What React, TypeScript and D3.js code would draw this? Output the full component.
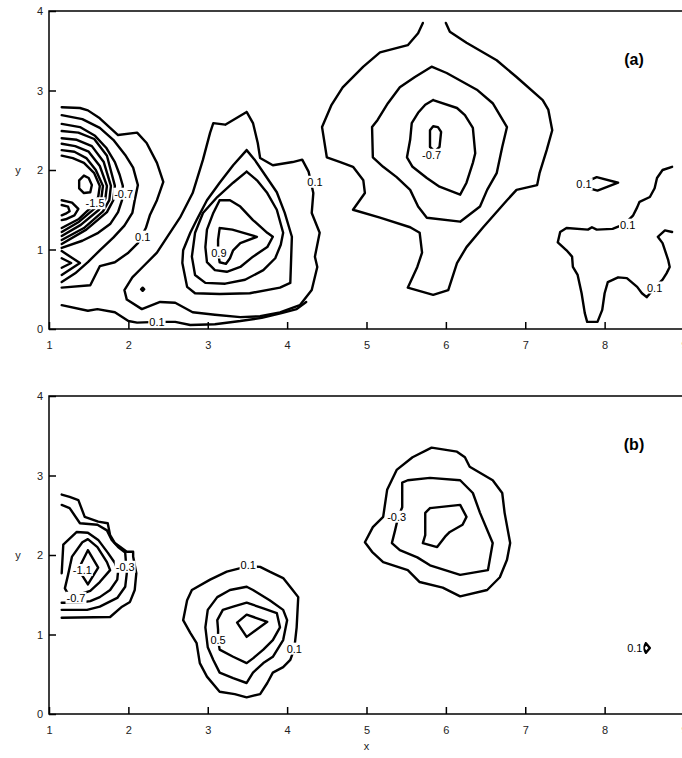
import React, { useEffect, useRef } from 'react';
import * as d3 from 'd3';

type Pt = [number, number];
interface ContourLabel { text: string; x: number; y: number; }

// ---------- panel (a) contour lines, data units (x, y) ----------
const aLeft1: Pt[] = [[1.16,2.79],[1.39,2.78],[1.49,2.75],[1.64,2.65],[1.87,2.44],[2.11,2.47],[2.23,2.34],[2.36,2.09],[2.44,1.85],[2.36,1.62],[2.27,1.43],[2.22,1.27],[2.12,1.08],[2.0,0.96],[1.83,0.84],[1.64,0.79],[1.52,0.55],[1.16,0.52]];
const aLeft2: Pt[] = [[1.16,2.69],[1.42,2.64],[1.64,2.53],[1.81,2.38],[1.96,2.19],[2.06,2.03],[2.12,1.81],[2.08,1.62],[2.05,1.46],[1.95,1.3],[1.81,1.15],[1.64,0.99],[1.49,0.84],[1.33,0.7],[1.16,0.59]];
const aLeft3: Pt[] = [[1.16,2.58],[1.39,2.54],[1.58,2.43],[1.72,2.28],[1.83,2.1],[1.89,1.94],[1.93,1.8],[1.92,1.62],[1.87,1.47],[1.77,1.32],[1.62,1.21],[1.42,1.11],[1.16,1.02]];
const aLeft4: Pt[] = [[1.16,2.49],[1.37,2.47],[1.57,2.39],[1.73,2.18],[1.83,1.8],[1.81,1.62],[1.73,1.47],[1.47,1.25],[1.16,1.07]];
const aLeft5: Pt[] = [[1.16,2.4],[1.35,2.38],[1.54,2.3],[1.69,2.1],[1.78,1.8],[1.76,1.62],[1.68,1.48],[1.44,1.27],[1.16,1.12]];
const aLeft6: Pt[] = [[1.16,2.33],[1.33,2.3],[1.5,2.23],[1.64,2.05],[1.73,1.8],[1.71,1.64],[1.63,1.5],[1.4,1.31],[1.16,1.17]];
const aLeft7: Pt[] = [[1.16,2.25],[1.32,2.23],[1.47,2.15],[1.59,2.0],[1.68,1.8],[1.66,1.65],[1.58,1.52],[1.38,1.35],[1.16,1.22]];
const aLeft8: Pt[] = [[1.16,2.18],[1.3,2.15],[1.44,2.09],[1.57,1.96],[1.64,1.8],[1.62,1.66],[1.54,1.54],[1.37,1.38],[1.16,1.27]];
const aLeftLoop: Pt[] = [[1.38,1.87],[1.44,1.93],[1.5,1.9],[1.54,1.81],[1.52,1.72],[1.44,1.71],[1.38,1.77],[1.38,1.87]];
const aLeftFan1: Pt[] = [[1.16,1.62],[1.29,1.59],[1.37,1.51],[1.32,1.43],[1.21,1.38],[1.16,1.37]];
const aLeftFan2: Pt[] = [[1.16,1.56],[1.24,1.54],[1.26,1.48],[1.21,1.45],[1.16,1.43]];
const aLeftChev1: Pt[] = [[1.16,0.98],[1.39,0.83],[1.16,0.68]];
const aLeftChev2: Pt[] = [[1.16,0.89],[1.28,0.83],[1.16,0.77]];
const aBottom: Pt[] = [[1.16,0.3],[1.49,0.23],[1.61,0.25],[1.83,0.21],[2.0,0.1],[2.11,0.08],[2.36,0.09],[2.59,0.09],[2.78,0.05],[3.09,0.06],[3.41,0.1],[3.68,0.14],[3.93,0.2],[4.12,0.25],[4.24,0.34]];
const aMid1: Pt[] = [[3.49,2.73],[3.57,2.59],[3.63,2.34],[3.66,2.15],[3.82,2.06],[4.07,2.1],[4.19,2.13],[4.27,1.98],[4.33,1.71],[4.31,1.46],[4.41,1.21],[4.35,0.91],[4.38,0.78],[4.31,0.49],[4.16,0.3],[3.91,0.21],[3.66,0.16],[3.41,0.15],[3.09,0.18],[2.81,0.21],[2.59,0.33],[2.4,0.34],[2.17,0.25],[1.98,0.37],[1.95,0.49],[2.05,0.65],[2.18,0.78],[2.36,0.96],[2.49,1.16],[2.65,1.4],[2.81,1.71],[2.94,2.13],[3.03,2.47],[3.07,2.59],[3.22,2.57],[3.49,2.73]];
const aMid2: Pt[] = [[3.49,2.25],[3.59,2.13],[3.72,1.94],[3.87,1.72],[3.97,1.46],[4.06,1.16],[4.05,0.87],[4.04,0.58],[3.91,0.52],[3.53,0.45],[3.15,0.44],[2.84,0.45],[2.74,0.53],[2.68,0.83],[2.69,0.99],[2.78,1.21],[2.86,1.37],[2.99,1.62],[3.15,1.84],[3.32,2.06],[3.49,2.25]];
const aMid3: Pt[] = [[3.49,1.98],[3.62,1.87],[3.75,1.71],[3.87,1.5],[3.95,1.21],[3.92,1.06],[3.85,0.89],[3.7,0.74],[3.47,0.62],[3.22,0.57],[2.97,0.58],[2.84,0.68],[2.8,0.91],[2.84,1.21],[2.94,1.46],[3.12,1.66],[3.32,1.84],[3.49,1.98]];
const aMid4: Pt[] = [[3.15,1.62],[3.28,1.62],[3.41,1.54],[3.57,1.37],[3.75,1.21],[3.82,1.16],[3.75,1.03],[3.57,0.91],[3.41,0.78],[3.24,0.72],[3.09,0.74],[2.99,0.84],[2.97,1.03],[2.99,1.25],[3.07,1.46],[3.15,1.62]];
const aMid5: Pt[] = [[3.15,1.27],[3.31,1.25],[3.62,1.16],[3.41,1.08],[3.32,0.99],[3.28,0.89],[3.23,0.82],[3.15,0.84],[3.13,0.96],[3.13,1.12],[3.15,1.27]];
const aDot: Pt[] = [[2.16,0.5],[2.18,0.52],[2.2,0.5],[2.18,0.48],[2.16,0.5]];
const aUp1: Pt[] = [[5.71,3.85],[5.65,3.72],[5.52,3.57],[5.17,3.48],[4.96,3.3],[4.7,3.04],[4.56,2.82],[4.44,2.54],[4.5,2.16],[4.67,2.1],[4.83,2.04],[4.96,1.87],[4.98,1.71],[4.83,1.5],[5.17,1.4],[5.55,1.28],[5.67,1.21],[5.7,0.96],[5.64,0.78],[5.52,0.52],[5.84,0.43],[6.03,0.49],[6.14,0.83],[6.26,1.03],[6.47,1.28],[6.77,1.62],[6.89,1.75],[7.15,1.81],[7.18,1.96],[7.27,2.25],[7.34,2.5],[7.29,2.76],[7.22,2.88],[6.89,3.17],[6.64,3.38],[6.26,3.6],[6.05,3.74],[6.0,3.85]];
const aUp2: Pt[] = [[5.82,3.3],[6.01,3.22],[6.39,3.01],[6.59,2.84],[6.77,2.54],[6.71,2.29],[6.64,1.96],[6.52,1.75],[6.43,1.54],[6.18,1.35],[5.76,1.4],[5.65,1.54],[5.55,1.75],[5.38,1.91],[5.21,2.04],[5.08,2.16],[5.07,2.54],[5.14,2.63],[5.27,2.84],[5.42,3.04],[5.61,3.17],[5.82,3.3]];
const aUp3: Pt[] = [[5.84,2.88],[6.14,2.78],[6.24,2.69],[6.34,2.53],[6.37,2.21],[6.34,2.09],[6.26,1.84],[6.18,1.69],[5.92,1.79],[5.76,1.9],[5.58,2.04],[5.51,2.16],[5.55,2.38],[5.57,2.59],[5.65,2.72],[5.74,2.82],[5.84,2.88]];
const aUp4: Pt[] = [[5.8,2.29],[5.8,2.5],[5.84,2.55],[5.9,2.54],[5.94,2.48],[5.92,2.29],[5.86,2.23],[5.8,2.29]];
const aRightChev: Pt[] = [[7.81,1.87],[7.9,1.91],[8.17,1.84],[7.91,1.74],[7.81,1.77]];
const aRight: Pt[] = [[8.85,2.04],[8.73,2.0],[8.66,1.9],[8.63,1.77],[8.57,1.66],[8.44,1.6],[8.41,1.53],[8.36,1.43],[8.25,1.32],[8.1,1.26],[7.9,1.25],[7.84,1.28],[7.79,1.25],[7.52,1.27],[7.44,1.22],[7.41,1.09],[7.52,0.99],[7.59,0.91],[7.6,0.78],[7.66,0.68],[7.71,0.45],[7.75,0.2],[7.78,0.09],[7.91,0.09],[7.97,0.24],[8.0,0.45],[8.04,0.59],[8.17,0.65],[8.28,0.64],[8.41,0.53],[8.47,0.45],[8.53,0.4],[8.63,0.52],[8.73,0.62],[8.78,0.7],[8.82,0.78],[8.8,0.87],[8.73,1.08],[8.67,1.16],[8.76,1.24],[8.85,1.22]];

const panelALines: Pt[][] = [aLeft1, aLeft2, aLeft3, aLeft4, aLeft5, aLeft6, aLeft7, aLeft8, aLeftLoop, aLeftFan1, aLeftFan2, aLeftChev1, aLeftChev2, aBottom, aMid1, aMid2, aMid3, aMid4, aMid5, aDot, aUp1, aUp2, aUp3, aUp4, aRightChev, aRight];
const panelALabels: ContourLabel[] = [
  { text: '-1.5', x: 1.58, y: 1.58 },
  { text: '-0.7', x: 1.94, y: 1.7 },
  { text: '0.1', x: 2.18, y: 1.16 },
  { text: '0.1', x: 2.36, y: 0.09 },
  { text: '0.9', x: 3.14, y: 0.96 },
  { text: '0.1', x: 4.35, y: 1.85 },
  { text: '-0.7', x: 5.82, y: 2.19 },
  { text: '0.1', x: 7.74, y: 1.82 },
  { text: '0.1', x: 8.29, y: 1.31 },
  { text: '0.1', x: 8.63, y: 0.52 },
];

// ---------- panel (b) ----------
const bLeft1: Pt[] = [[1.16,2.76],[1.26,2.73],[1.37,2.69],[1.45,2.48],[1.62,2.42],[1.74,2.4],[1.77,2.25],[1.83,2.15],[1.98,2.04],[2.06,2.04],[2.06,1.98],[2.1,1.77],[2.08,1.56],[2.02,1.41],[1.92,1.35],[1.77,1.22],[1.16,1.21]];
const bLeft2: Pt[] = [[1.16,2.63],[1.26,2.59],[1.39,2.4],[1.61,2.38],[1.73,2.31],[1.79,2.19],[1.87,2.1],[1.96,2.03],[1.98,1.77],[1.96,1.6],[1.86,1.46],[1.64,1.35],[1.48,1.31],[1.16,1.31]];
const bLeft3: Pt[] = [[1.16,1.77],[1.18,2.13],[1.35,2.29],[1.49,2.28],[1.62,2.19],[1.74,2.03],[1.83,1.9],[1.87,1.79],[1.86,1.69],[1.77,1.56],[1.64,1.47],[1.52,1.42],[1.37,1.4],[1.16,1.4]];
const bLeft4: Pt[] = [[1.2,1.58],[1.24,1.75],[1.29,1.98],[1.42,2.16],[1.49,2.2],[1.61,2.1],[1.73,1.91],[1.77,1.81],[1.64,1.66],[1.52,1.55],[1.37,1.5],[1.24,1.51],[1.2,1.58]];
const bLeft5: Pt[] = [[1.49,2.06],[1.62,1.84],[1.49,1.63],[1.37,1.82],[1.49,2.06]];
const bMid1: Pt[] = [[3.51,1.86],[3.24,1.79],[3.03,1.69],[2.8,1.56],[2.74,1.43],[2.69,1.18],[2.78,1.02],[2.86,0.89],[2.9,0.64],[2.99,0.47],[3.15,0.28],[3.34,0.25],[3.49,0.21],[3.66,0.25],[3.75,0.39],[3.82,0.52],[3.95,0.59],[4.04,0.68],[4.09,0.82],[4.12,1.09],[4.14,1.47],[4.07,1.56],[3.95,1.71],[3.78,1.79],[3.66,1.85],[3.51,1.86]];
const bMid2: Pt[] = [[3.49,1.6],[3.28,1.56],[3.12,1.47],[3.0,1.31],[2.97,1.09],[3.0,0.84],[3.07,0.68],[3.15,0.52],[3.32,0.45],[3.49,0.39],[3.57,0.52],[3.7,0.64],[3.82,0.72],[3.95,0.93],[4.0,1.18],[3.95,1.31],[3.78,1.43],[3.57,1.56],[3.49,1.6]];
const bMid3: Pt[] = [[3.13,1.06],[3.12,1.18],[3.19,1.31],[3.32,1.35],[3.49,1.4],[3.7,1.33],[3.87,1.27],[3.91,1.09],[3.82,0.93],[3.7,0.81],[3.57,0.7],[3.49,0.64],[3.32,0.72],[3.15,0.81],[3.13,0.93],[3.13,1.06]];
const bMid4: Pt[] = [[3.37,1.15],[3.49,1.25],[3.75,1.16],[3.49,0.97],[3.37,1.15]];
const bUp1: Pt[] = [[5.82,3.35],[6.14,3.3],[6.24,3.23],[6.3,3.11],[6.59,2.94],[6.71,2.78],[6.74,2.53],[6.81,2.15],[6.77,1.94],[6.68,1.72],[6.52,1.56],[6.18,1.48],[5.96,1.59],[5.67,1.66],[5.52,1.81],[5.21,1.91],[5.07,2.04],[4.98,2.16],[5.08,2.35],[5.21,2.48],[5.26,2.82],[5.38,3.07],[5.58,3.23],[5.82,3.35]];
const bUp2: Pt[] = [[5.45,2.91],[5.52,2.94],[5.8,2.97],[6.18,2.94],[6.34,2.78],[6.43,2.53],[6.59,2.15],[6.53,1.81],[6.18,1.75],[5.8,1.87],[5.64,1.97],[5.42,2.06],[5.32,2.15],[5.36,2.31],[5.4,2.48],[5.45,2.6],[5.45,2.91]];
const bUp3: Pt[] = [[5.8,2.59],[6.18,2.63],[6.26,2.48],[6.21,2.38],[6.05,2.29],[5.99,2.23],[5.89,2.1],[5.71,2.15],[5.74,2.25],[5.74,2.53],[5.8,2.59]];
const bRight: Pt[] = [[8.52,0.89],[8.57,0.83],[8.52,0.77],[8.49,0.83],[8.52,0.89]];

const panelBLines: Pt[][] = [bLeft1, bLeft2, bLeft3, bLeft4, bLeft5, bMid1, bMid2, bMid3, bMid4, bUp1, bUp2, bUp3, bRight];
const panelBLabels: ContourLabel[] = [
  { text: '-1.1', x: 1.42, y: 1.81 },
  { text: '-0.3', x: 1.96, y: 1.85 },
  { text: '-0.7', x: 1.34, y: 1.46 },
  { text: '0.1', x: 3.51, y: 1.87 },
  { text: '0.5', x: 3.13, y: 0.93 },
  { text: '0.1', x: 4.09, y: 0.82 },
  { text: '-0.3', x: 5.38, y: 2.48 },
  { text: '0.1', x: 8.38, y: 0.83 },
];

const xTicks = [1, 2, 3, 4, 5, 6, 7, 8, 9];
const yTicks = [0, 1, 2, 3, 4];
const FONT = '"Liberation Sans", Arial, Helvetica, sans-serif';

const App: React.FC = () => {
  const svgRef = useRef<SVGSVGElement>(null);

  useEffect(() => {
    const svg = d3.select(svgRef.current);
    svg.selectAll('*').remove();

    const x = d3.scaleLinear().domain([1, 9]).range([49, 684]);

    const panels = [
      { top: 11, bottom: 329, lines: panelALines, labels: panelALabels, tag: '(a)' },
      { top: 396, bottom: 714, lines: panelBLines, labels: panelBLabels, tag: '(b)' },
    ];

    panels.forEach(p => {
      const y = d3.scaleLinear().domain([0, 4]).range([p.bottom, p.top]);
      const g = svg.append('g');
      const line = d3.line<Pt>().x(d => x(d[0])).y(d => y(d[1]));

      // contour lines
      g.selectAll('path.contour')
        .data(p.lines)
        .enter().append('path')
        .attr('class', 'contour')
        .attr('d', d => line(d))
        .attr('fill', 'none')
        .attr('stroke', '#000')
        .attr('stroke-width', 2.4)
        .attr('stroke-linejoin', 'round')
        .attr('stroke-linecap', 'round');

      // contour labels with white knock-out box
      const lab = g.selectAll('g.clabel')
        .data(p.labels)
        .enter().append('g')
        .attr('class', 'clabel')
        .attr('transform', d => `translate(${x(d.x)},${y(d.y)})`);
      lab.append('text')
        .attr('text-anchor', 'middle')
        .attr('dy', '0.35em')
        .attr('font-family', FONT)
        .attr('font-size', 11)
        .attr('fill', '#000')
        .text(d => d.text);
      lab.each(function () {
        const grp = d3.select(this);
        const bb = (grp.select('text').node() as SVGTextElement).getBBox();
        grp.insert('rect', 'text')
          .attr('x', bb.x - 1)
          .attr('y', bb.y)
          .attr('width', bb.width + 2)
          .attr('height', bb.height)
          .attr('fill', '#fff');
      });

      // frame
      g.append('rect')
        .attr('x', 49)
        .attr('y', p.top)
        .attr('width', 635)
        .attr('height', p.bottom - p.top)
        .attr('fill', 'none')
        .attr('stroke', '#000')
        .attr('stroke-width', 1.5);

      // x axis (ticks inside)
      const xa = g.append('g')
        .attr('transform', `translate(0,${p.bottom})`)
        .call(d3.axisBottom(x).tickValues(xTicks).tickSize(-7).tickPadding(12).tickFormat(d3.format('d')));
      xa.select('.domain').remove();
      xa.selectAll('line').attr('stroke-width', 1.5);
      xa.selectAll('text').attr('font-family', FONT).attr('font-size', 11).attr('fill', '#222');

      // y axis
      const ya = g.append('g')
        .attr('transform', 'translate(49,0)')
        .call(d3.axisLeft(y).tickValues(yTicks).tickSize(-7).tickPadding(6).tickFormat(d3.format('d')));
      ya.select('.domain').remove();
      ya.selectAll('line').attr('stroke-width', 1.5);
      ya.selectAll('text').attr('font-family', FONT).attr('font-size', 11).attr('fill', '#222');

      // y title
      g.append('text')
        .attr('x', 18)
        .attr('y', y(2))
        .attr('dy', '0.35em')
        .attr('text-anchor', 'middle')
        .attr('font-family', FONT)
        .attr('font-size', 11)
        .attr('fill', '#222')
        .text('y');

      // panel tag
      g.append('text')
        .attr('x', 634)
        .attr('y', p.top + 54)
        .attr('text-anchor', 'middle')
        .attr('font-family', FONT)
        .attr('font-size', 16)
        .attr('font-weight', 'bold')
        .attr('fill', '#000')
        .text(p.tag);
    });

    // x title
    svg.append('text')
      .attr('x', x(5))
      .attr('y', 750)
      .attr('text-anchor', 'middle')
      .attr('font-family', FONT)
      .attr('font-size', 11)
      .attr('fill', '#222')
      .text('x');
  }, []);

  return (
    <svg
      ref={svgRef}
      width={682}
      height={758}
      style={{ position: 'absolute', left: 0, top: 0, background: '#fff' }}
    />
  );
};

export default App;
